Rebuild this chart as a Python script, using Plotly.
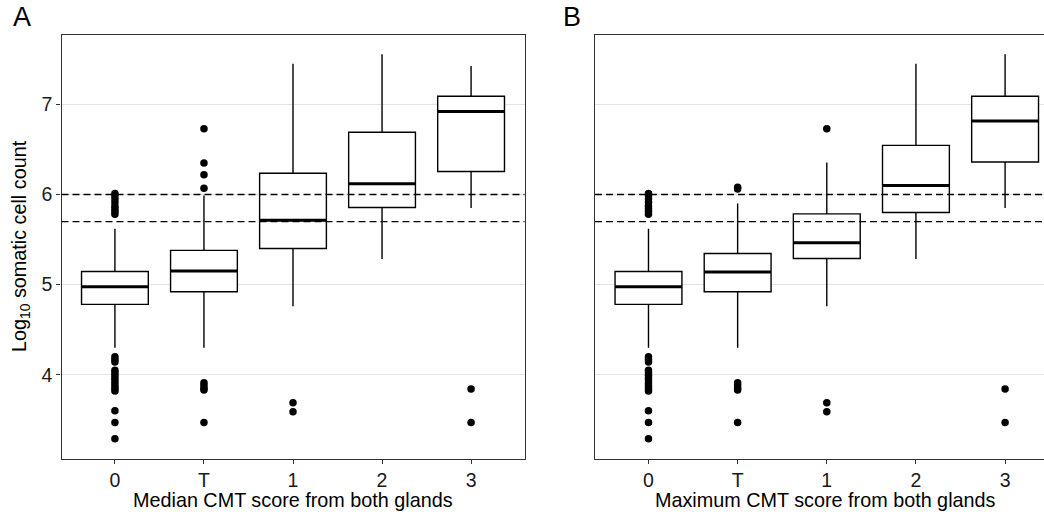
import plotly.graph_objects as go

# ---------------- data ----------------
categories = ["0", "T", "1", "2", "3"]

# Panel A: median CMT score
A_q1 = [4.78, 4.92, 5.40, 5.855, 6.255]
A_median = [4.975, 5.15, 5.715, 6.12, 6.92]
A_q3 = [5.145, 5.38, 6.235, 6.69, 7.09]
A_lower = [4.30, 4.30, 4.76, 5.285, 5.85]
A_upper = [5.62, 5.99, 7.45, 7.555, 7.425]
A_outliers = [
    [6.01, 5.99, 5.95, 5.91, 5.87, 5.84, 5.81, 5.78,
     4.20, 4.17, 4.14, 4.05, 4.02, 3.99, 3.96, 3.93, 3.90, 3.87, 3.84, 3.82,
     3.60, 3.47, 3.29],
    [6.73, 6.35, 6.22, 6.07, 3.91, 3.88, 3.85, 3.83, 3.47],
    [3.69, 3.59],
    [],
    [3.84, 3.47],
]

# Panel B: maximum CMT score
B_q1 = [4.78, 4.92, 5.29, 5.80, 6.36]
B_median = [4.975, 5.14, 5.465, 6.10, 6.815]
B_q3 = [5.145, 5.345, 5.785, 6.545, 7.09]
B_lower = [4.30, 4.30, 4.76, 5.285, 5.85]
B_upper = [5.62, 5.90, 6.355, 7.45, 7.555]
B_outliers = [
    [6.01, 5.99, 5.95, 5.91, 5.87, 5.84, 5.81, 5.78,
     4.20, 4.17, 4.14, 4.05, 4.02, 3.99, 3.96, 3.93, 3.90, 3.87, 3.84, 3.82,
     3.60, 3.47, 3.29],
    [6.08, 6.06, 3.91, 3.88, 3.85, 3.83, 3.47],
    [6.73, 3.69, 3.59],
    [],
    [3.84, 3.47],
]

thresholds = [6.0, 5.699]
y_ticks = [4, 5, 6, 7]

x_title_A = "Median CMT score from both glands"
x_title_B = "Maximum CMT score from both glands"
y_title = "Log<sub>10</sub> somatic cell count"

# ---------------- style ----------------
W, H = 1044, 514
FONT = "Liberation Sans, Arial, sans-serif"
FS_TICK = 19.5
FS_TITLE = 19.8
BOXW = 0.75
LINE = "#000000"
FRAME = "#333333"


def fx(p):
    return p / W


def fy(p):
    return 1 - p / H


fig = go.Figure()
idx = list(range(len(categories)))


def add_panel(q1, med, q3, lo, hi, outl, xa, ya):
    fig.add_trace(go.Box(
        x=idx, q1=q1, median=med, q3=q3, lowerfence=lo, upperfence=hi,
        width=BOXW, whiskerwidth=0, fillcolor="white",
        line=dict(color=LINE, width=1.4), boxpoints=False,
        xaxis=xa, yaxis=ya, showlegend=False, hoverinfo="skip",
    ))
    mx, my = [], []
    for i, m in zip(idx, med):
        mx += [i - BOXW / 2, i + BOXW / 2, None]
        my += [m, m, None]
    fig.add_trace(go.Scatter(
        x=mx, y=my, mode="lines", line=dict(color=LINE, width=3),
        xaxis=xa, yaxis=ya, showlegend=False, hoverinfo="skip",
    ))
    ox, oy = [], []
    for i, pts in zip(idx, outl):
        ox += [i] * len(pts)
        oy += pts
    fig.add_trace(go.Scatter(
        x=ox, y=oy, mode="markers",
        marker=dict(color="black", size=7.5, line=dict(width=0)),
        xaxis=xa, yaxis=ya, showlegend=False, hoverinfo="skip",
    ))


add_panel(A_q1, A_median, A_q3, A_lower, A_upper, A_outliers, "x", "y")
add_panel(B_q1, B_median, B_q3, B_lower, B_upper, B_outliers, "x2", "y2")

for xr in ["x domain", "x2 domain"]:
    yr = "y" if xr == "x domain" else "y2"
    for t in thresholds:
        fig.add_shape(type="line", xref=xr, yref=yr, x0=0, x1=1, y0=t, y1=t,
                      line=dict(color="black", width=1.3, dash="7px,4px"),
                      layer="above")

yrange = [3.07, 7.77]
ydom = [fy(458.5), fy(35)]
tickfont = dict(family=FONT, size=FS_TICK, color="#1a1a1a")

common_x = dict(tickmode="array", tickvals=idx, ticktext=categories,
                ticks="outside", ticklen=4, tickwidth=1.1, tickcolor=FRAME,
                showline=True, linecolor=FRAME, linewidth=1.3, mirror=True,
                showgrid=False, zeroline=False, tickfont=tickfont)
common_y = dict(range=yrange, domain=ydom, tickmode="array", tickvals=y_ticks,
                showgrid=True, gridcolor="#e3e3e3", gridwidth=1.2,
                zeroline=False, showline=True, linecolor=FRAME, linewidth=1.3,
                tickfont=tickfont)

fig.update_layout(
    width=W, height=H, margin=dict(l=0, r=0, t=0, b=0),
    paper_bgcolor="white", plot_bgcolor="white",
    font=dict(family=FONT, size=FS_TITLE, color="black"),
    showlegend=False,
    xaxis=dict(domain=[fx(61.5), fx(524.5)], range=[-0.6, 4.6], anchor="y",
               **common_x),
    yaxis=dict(anchor="x", ticks="outside", ticklen=4, tickwidth=1.1,
               tickcolor=FRAME, mirror=True, **common_y),
    xaxis2=dict(domain=[fx(595), 1.0], range=[-0.6, -0.6 + (W - 595) / 89.15],
                anchor="y2", **common_x),
    yaxis2=dict(anchor="x2", ticks="", showticklabels=False, mirror=False,
                **common_y),
)

ann = [
    dict(text="A", x=fx(11), y=fy(34), xanchor="left", yanchor="bottom",
         font=dict(size=27)),
    dict(text="B", x=fx(561), y=fy(34), xanchor="left", yanchor="bottom",
         font=dict(size=27)),
    dict(text=y_title, x=fx(20), y=fy(246), textangle=-90,
         xanchor="center", yanchor="middle", font=dict(size=FS_TITLE)),
    dict(text=x_title_A, x=fx(293), y=fy(500), xanchor="center",
         yanchor="middle", font=dict(size=FS_TITLE)),
    dict(text=x_title_B, x=fx(825), y=fy(500), xanchor="center",
         yanchor="middle", font=dict(size=FS_TITLE)),
]
for a in ann:
    a.update(xref="paper", yref="paper", showarrow=False)
fig.update_layout(annotations=ann)

fig.write_html("out.html")
